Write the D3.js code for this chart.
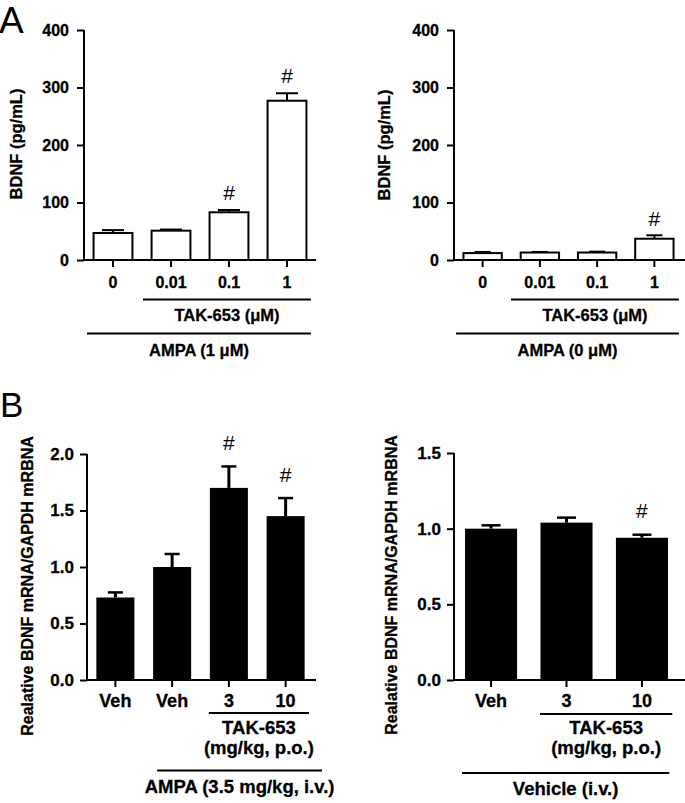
<!DOCTYPE html>
<html><head><meta charset="utf-8">
<script src="https://cdn.jsdelivr.net/npm/d3@7"></script>
<style>
body{margin:0;background:#fff}
text{font-family:"Liberation Sans",Arial,sans-serif;font-weight:bold;fill:#000}
</style>
</head><body>
<svg id="chart" width="685" height="803"></svg>
<script>
// ---------------- data ----------------
const a1Categories = ["0", "0.01", "0.1", "1"];
const a1Values = [47, 51, 83, 277];
const a1Errors = [5, 2, 4, 13];
const a1Sig = [false, false, true, true];

const a2Categories = ["0", "0.01", "0.1", "1"];
const a2Values = [12, 13, 13, 37];
const a2Errors = [2, 1, 1.5, 6];
const a2Sig = [false, false, false, true];

const b1Categories = ["Veh", "Veh", "3", "10"];
const b1Values = [0.73, 1.00, 1.70, 1.45];
const b1Errors = [0.045, 0.115, 0.19, 0.16];
const b1Sig = [false, false, true, true];

const b2Categories = ["Veh", "3", "10"];
const b2Values = [1.00, 1.04, 0.94];
const b2Errors = [0.022, 0.033, 0.02];
const b2Sig = [false, false, true];

const aTicks = [0, 100, 200, 300, 400];
const b1Ticks = [0, 0.5, 1.0, 1.5, 2.0];
const b2Ticks = [0, 0.5, 1.0, 1.5];

const aYTitle = "BDNF (pg/mL)";
const bYTitle = "Realative BDNF mRNA/GAPDH mRBNA";
const sigMark = "#";

// ---------------- layout ----------------
const svg = d3.select("#chart");
const FONT = '"Liberation Sans",Arial,sans-serif';

const panels = [
  { cats: a1Categories, vals: a1Values, errs: a1Errors, sig: a1Sig, ticks: aTicks, fmt: d3.format("d"), max: 400,
    axisX: 84, rangeEnd: 316, axisEnd: 316, yTop: 30, yBot: 260, fill: "#fff", stroke: 2,
    fs: 16, yfs: 16, lfs: 16.5, tickPad: 8, xPad: 9.6, cap: 22, sigGap: 10,
    title: aYTitle, titleX: 22, titleY: 144, titleFs: 16.5,
    brackets: [
      { from: 1, to: 3, padL: 8.6, padR: 4.5, y: 299.5, lines: ["TAK-653 (\u03bcM)"], base: [321] },
      { from: 0, to: 3, padL: 6.6, padR: 4.5, y: 333.5, lines: ["AMPA (1 \u03bcM)"], base: [356] }
    ] },
  { cats: a2Categories, vals: a2Values, errs: a2Errors, sig: a2Sig, ticks: aTicks, fmt: d3.format("d"), max: 400,
    axisX: 454, rangeEnd: 683, axisEnd: 685, yTop: 30, yBot: 260, fill: "#fff", stroke: 2,
    fs: 16, yfs: 16, lfs: 16.5, tickPad: 8, xPad: 9.6, cap: 16, sigGap: 9,
    title: aYTitle, titleX: 390, titleY: 145, titleFs: 16.5,
    brackets: [
      { from: 1, to: 3, padL: 9.7, padR: 5.4, y: 299.5, lines: ["TAK-653 (\u03bcM)"], base: [321] },
      { from: 0, to: 3, padL: 7.4, padR: 5.4, y: 333.5, lines: ["AMPA (0 \u03bcM)"], base: [356] }
    ] },
  { cats: b1Categories, vals: b1Values, errs: b1Errors, sig: b1Sig, ticks: b1Ticks, fmt: d3.format(".1f"), max: 2,
    axisX: 87, rangeEnd: 314, axisEnd: 316, yTop: 454, yBot: 680, fill: "#000", stroke: 0,
    fs: 18, yfs: 17, lfs: 18.5, tickPad: 6, xPad: 7.2, cap: 15, sigGap: 16,
    title: bYTitle, titleX: 33, titleY: 586, titleFs: 16,
    brackets: [
      { from: 2, to: 3, padL: 1, padR: 4.4, y: 713, lines: ["TAK-653", "(mg/kg, p.o.)"], base: [734, 754] },
      { from: 1, to: 3, padL: -4, padR: 17.4, y: 770.5, lines: ["AMPA (3.5 mg/kg, i.v.)"], base: [793] }
    ] },
  { cats: b2Categories, vals: b2Values, errs: b2Errors, sig: b2Sig, ticks: b2Ticks, fmt: d3.format(".1f"), max: 1.5,
    axisX: 454, rangeEnd: 679, axisEnd: 685, yTop: 453, yBot: 680, fill: "#000", stroke: 0,
    fs: 18, yfs: 17, lfs: 18.5, tickPad: 6, xPad: 7.2, cap: 19, sigGap: 17,
    title: bYTitle, titleX: 397, titleY: 585, titleFs: 16,
    brackets: [
      { from: 1, to: 2, padL: 0.5, padR: 4.3, y: 714, lines: ["TAK-653", "(mg/kg, p.o.)"], base: [734, 754] },
      { from: 0, to: 2, padL: 3, padR: 1.3, y: 773, lines: ["Vehicle (i.v.)"], base: [795] }
    ] }
];

function styleText(sel, size) {
  sel.style("font-size", size + "px").style("font-family", FONT).style("font-weight", "bold")
     .attr("fill", "#000").style("stroke", "#000").style("stroke-width", "0.3px");
}

panels.forEach(p => {
  const n = p.cats.length;
  const idx = d3.range(n);
  const pi = n === 3 ? 0.31 : 0.33;
  const po = n === 3 ? 0.146 : 0.165;
  const x = d3.scaleBand().domain(idx).range([p.axisX, p.rangeEnd]).paddingInner(pi).paddingOuter(po);
  const y = d3.scaleLinear().domain([0, p.max]).range([p.yBot, p.yTop]);
  const g = svg.append("g");

  // bars
  g.selectAll("rect.bar").data(idx).enter().append("rect")
    .attr("x", i => x(i)).attr("width", x.bandwidth())
    .attr("y", i => y(p.vals[i])).attr("height", i => y(0) - y(p.vals[i]))
    .attr("fill", p.fill).attr("stroke", p.stroke ? "#000" : "none").attr("stroke-width", p.stroke);

  // error bars (upper only)
  const cx = i => x(i) + x.bandwidth() / 2;
  g.selectAll("line.err").data(idx).enter().append("line")
    .attr("x1", cx).attr("x2", cx)
    .attr("y1", i => y(p.vals[i])).attr("y2", i => y(p.vals[i] + p.errs[i]))
    .attr("stroke", "#000").attr("stroke-width", p.stroke ? 2 : 3);
  g.selectAll("line.cap").data(idx).enter().append("line")
    .attr("x1", i => cx(i) - p.cap / 2).attr("x2", i => cx(i) + p.cap / 2)
    .attr("y1", i => y(p.vals[i] + p.errs[i])).attr("y2", i => y(p.vals[i] + p.errs[i]))
    .attr("stroke", "#000").attr("stroke-width", p.stroke ? 2 : 2.5);

  // significance marks
  g.selectAll("text.sig").data(idx.filter(i => p.sig[i])).enter().append("text")
    .attr("x", cx).attr("y", i => y(p.vals[i] + p.errs[i]) - p.sigGap)
    .attr("text-anchor", "middle").style("font-weight", "normal").style("font-size", "21px")
    .text(sigMark);

  // y axis
  const ya = g.append("g").attr("transform", `translate(${p.axisX},0)`)
    .call(d3.axisLeft(y).tickValues(p.ticks).tickFormat(p.fmt).tickSize(7).tickSizeOuter(0).tickPadding(p.tickPad));
  ya.select(".domain").attr("stroke-width", 2).attr("d", `M0,${p.yTop}V${p.yBot + 1}`);
  ya.selectAll(".tick line").attr("stroke-width", 2);
  styleText(ya.selectAll(".tick text"), p.yfs);

  // x axis
  const xa = g.append("g").attr("transform", `translate(0,${p.yBot})`)
    .call(d3.axisBottom(x).tickFormat(i => p.cats[i]).tickSize(7).tickSizeOuter(0).tickPadding(p.xPad));
  xa.select(".domain").attr("stroke-width", 2).attr("d", `M${p.axisX - 1},0H${p.axisEnd}`);
  xa.selectAll(".tick line").attr("stroke-width", 2);
  styleText(xa.selectAll(".tick text"), p.fs);

  // y title
  styleText(g.append("text").attr("transform", `translate(${p.titleX},${p.titleY}) rotate(-90)`)
    .attr("text-anchor", "middle").text(p.title), p.titleFs);

  // brackets
  p.brackets.forEach(b => {
    const x1 = x(b.from) - b.padL, x2 = x(b.to) + x.bandwidth() + b.padR;
    g.append("line").attr("x1", x1).attr("x2", x2).attr("y1", b.y).attr("y2", b.y)
      .attr("stroke", "#000").attr("stroke-width", 2);
    b.lines.forEach((t, k) => {
      styleText(g.append("text").attr("x", (x1 + x2) / 2).attr("y", b.base[k])
        .attr("text-anchor", "middle").text(t), p.lfs);
    });
  });
});

// panel letters
svg.append("text").attr("x", -1).attr("y", 33).style("font-weight", "normal").style("font-size", "37px").text("A");
svg.append("text").attr("x", 0).attr("y", 417).style("font-weight", "normal").style("font-size", "35px").text("B");
</script>
</body></html>
